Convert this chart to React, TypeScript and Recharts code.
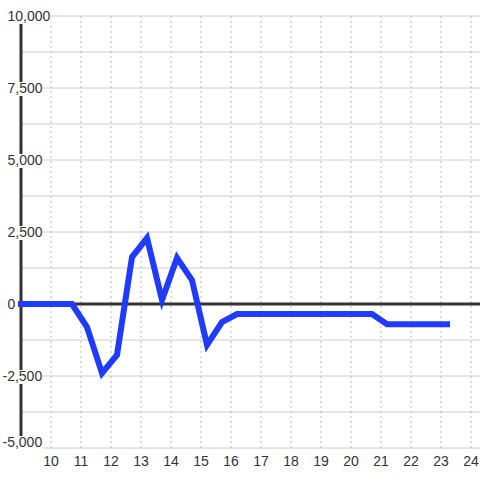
import React from 'react';
import { LineChart, Line, XAxis, YAxis, CartesianGrid, ReferenceLine } from 'recharts';

// hours along the x axis, one reading every half hour
const hours = [
    9, 9.7, 10.2, 10.7, 11.2, 11.7, 12.2, 12.7, 13.2, 13.7, 14.2, 14.7, 15.2, 15.7,
    16.2, 16.7, 17.2, 17.7, 18.2, 18.7, 19.2, 19.7, 20.2, 20.7, 21.2, 21.7, 22.2, 22.7, 23.2,
];
const values = [
    0, 0, 0, 0, -800, -2400, -1770, 1630, 2290, 140, 1600, 830, -1420, -625,
    -350, -350, -350, -350, -350, -350, -350, -350, -350, -350, -700, -700, -700, -700, -700,
];
const xTicks = [10, 11, 12, 13, 14, 15, 16, 17, 18, 19, 20, 21, 22, 23, 24];
const yTicks = [-5000, -3750, -2500, -1250, 0, 1250, 2500, 3750, 5000, 6250, 7500, 8750, 10000];

const data = hours.map((t, i) => ({ t, v: values[i] }));

const FONT = '"Liberation Sans", Arial, sans-serif';
const fmt = (v: number) => v.toLocaleString('en-US');

// only every other tick gets a label; the label box hides the axis line behind it
const YTick = ({ y, payload }: any) => {
    const v = payload.value;
    if (v % 2500 !== 0) return null;
    const label = fmt(v);
    const digits = label.replace(/[^0-9]/g, '').length;
    const commas = (label.match(/,/g) || []).length;
    const neg = v < 0;
    const startX = neg ? 2.5 : 7.5;
    const w = digits * 7.8 + commas * 3.9 + (neg ? 4.7 : 0);
    // bottom label sits a bit higher so it clears the hour labels
    const ty = v === yTicks[0] ? y - 6 : y;
    return (
        <g>
            <rect x={startX - 1} y={ty - 6} width={w + 2} height={14} fill="#fff" />
            <text x={startX} y={ty} dy="0.355em" textAnchor="start" fontSize={14} fontFamily={FONT} fill="#333">
                {label}
            </text>
        </g>
    );
};

const XTick = ({ x, y, payload }: any) => (
    <text x={x} y={y} dy="0.71em" textAnchor="middle" fontSize={14} fontFamily={FONT} fill="#333">
        {payload.value}
    </text>
);

export default function App() {
    return (
        <div style={{ width: 480, height: 480, background: '#fff' }}>
            <style>{'body{margin:0}'}</style>
            <LineChart width={480} height={480} data={data} margin={{ top: 16, right: 0, bottom: 0, left: 0 }}>
                <CartesianGrid vertical={false} stroke="#cccccc" />
                <XAxis
                    dataKey="t"
                    type="number"
                    domain={[9, 24.3]}
                    ticks={xTicks}
                    axisLine={false}
                    tickLine={false}
                    height={32}
                    tick={<XTick />}
                    interval={0}
                />
                <YAxis
                    type="number"
                    domain={[-5000, 10000]}
                    ticks={yTicks}
                    width={21}
                    axisLine={{ stroke: '#333', strokeWidth: 3 }}
                    tickLine={false}
                    tick={<YTick />}
                    interval={0}
                />
                {/* dotted hour lines */}
                {xTicks.map((t) => (
                    <ReferenceLine key={t} x={t} stroke="#bbbbbb" strokeDasharray="2 3" />
                ))}
                <ReferenceLine y={0} stroke="#333" strokeWidth={3} />
                <Line
                    type="linear"
                    dataKey="v"
                    stroke="#1f3bff"
                    strokeWidth={6}
                    strokeLinecap="square"
                    strokeLinejoin="miter"
                    dot={false}
                    activeDot={false}
                    isAnimationActive={false}
                    zIndex={600}
                />
            </LineChart>
        </div>
    );
}
